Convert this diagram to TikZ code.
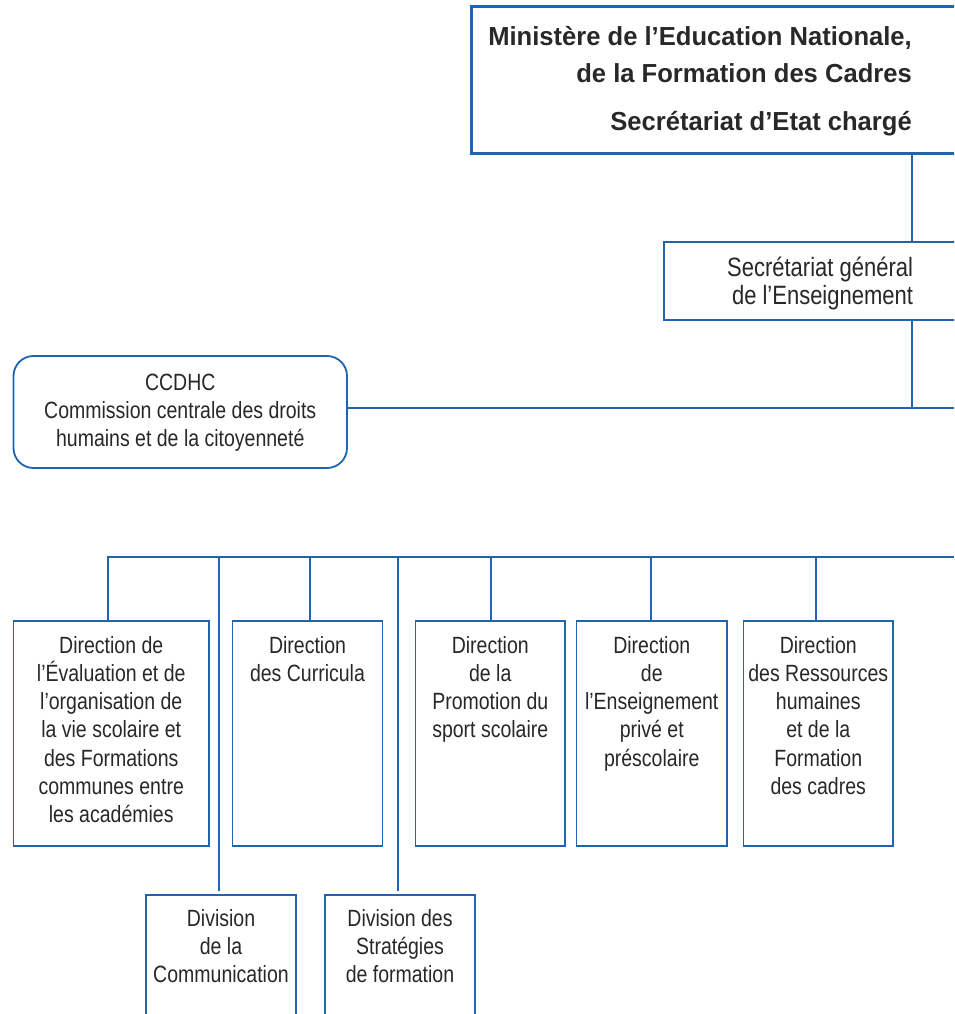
\documentclass[tikz,border=0pt]{standalone}
\usepackage{fontspec}
\setmainfont{Liberation Sans}[FakeStretch=0.83]
\newfontfamily\titlefont{Liberation Sans}[FakeStretch=0.98]
\definecolor{bl}{RGB}{30,100,175}
\definecolor{ink}{RGB}{40,40,40}
\begin{document}
\begin{tikzpicture}[x=1pt,y=-1pt,
  box/.style={draw=bl, line width=1.8pt, fill=white, inner sep=0pt, outer sep=0pt},
  lbl/.style={inner sep=0pt, outer sep=0pt, align=center, text=ink, font=\fontsize{23.5}{28.3}\selectfont, anchor=base},
  con/.style={draw=bl, line width=1.4pt}]
\useasboundingbox (0,0) rectangle (954,1014);
\clip (0,0) rectangle (954,1014);

% boxes
\node[box, line width=3pt, minimum width=538.5pt, minimum height=147pt] (top) at (740.75,80) {};
\node[box, minimum width=346pt, minimum height=78pt] (sg) at (837,281) {};
\node[box, rounded corners=20pt, minimum width=333.5pt, minimum height=112pt] (cc) at (180.25,412) {};
\node[box, minimum width=195.5pt, minimum height=225pt] (b1) at (111.25,733.5) {};
\node[box, minimum width=150pt, minimum height=225pt] (b2) at (307.5,733.5) {};
\node[box, minimum width=149.5pt, minimum height=225pt] (b3) at (490.25,733.5) {};
\node[box, minimum width=150.5pt, minimum height=225pt] (b4) at (651.75,733.5) {};
\node[box, minimum width=149.5pt, minimum height=225pt] (b5) at (818.25,733.5) {};
\node[box, minimum width=150pt, minimum height=165pt] (d1) at (221,977.5) {};
\node[box, minimum width=150pt, minimum height=165pt] (d2) at (400,977.5) {};

% texts (anchored at the baseline of their last line)
\node[inner sep=0pt, align=right, text=ink, anchor=base east,
  font=\titlefont\bfseries\fontsize{26.1}{36}\selectfont] (ttl) at (912,131)
  {Ministère de l’Education Nationale,\\de la Formation des Cadres\\[13pt]Secrétariat d’Etat chargé};
\node[lbl, align=right, anchor=base east, font=\fontsize{26.5}{28}\selectfont] (sgt) at (913,304) {Secrétariat général\\de l’Enseignement};
\node[lbl] (cct) at (180.25,446.6) {CCDHC\\Commission centrale des droits\\humains et de la citoyenneté};
\node[lbl] (b1t) at (111.25,822.8) {Direction de\\l’Évaluation et de\\l’organisation de\\la vie scolaire et\\des Formations\\communes entre\\les académies};
\node[lbl] (b2t) at (307.5,681.3) {Direction\\des Curricula};
\node[lbl] (b3t) at (490.25,737.9) {Direction\\de la\\Promotion du\\sport scolaire};
\node[lbl] (b4t) at (651.75,766.2) {Direction\\de\\l’Enseignement\\privé et\\préscolaire};
\node[lbl] (b5t) at (818.25,794.5) {Direction\\des Ressources\\humaines\\et de la\\Formation\\des cadres};
\node[lbl] (d1t) at (221,982.6) {Division\\de la\\Communication};
\node[lbl] (d2t) at (400,982.6) {Division des\\Stratégies\\de formation};

% connectors
\coordinate (j1) at (912,408);
\coordinate (r1) at (954,408);
\draw[con] (top.south -| j1) -- (sg.north -| j1);
\draw[con] (sg.south -| j1) -- (j1);
\draw[con] (r1 -| cc.east) -- (r1);

\coordinate (bL) at (108,557);
\coordinate (bR) at (954,557);
\coordinate (t2) at (310,557);
\coordinate (t3) at (491,557);
\coordinate (t4) at (651,557);
\coordinate (t5) at (816,557);
\coordinate (t6) at (219,557);
\coordinate (t7) at (398,557);
\draw[con] (bR) -- (bL) -- (b1.north -| bL);
\draw[con] (t2) -- (t2 |- b2.north);
\draw[con] (t3) -- (t3 |- b3.north);
\draw[con] (t4) -- (t4 |- b4.north);
\draw[con] (t5) -- (t5 |- b5.north);
\draw[con] (t6) -- ([yshift=4pt]d1.north -| t6);
\draw[con] (t7) -- ([yshift=4pt]d2.north -| t7);
\end{tikzpicture}
\end{document}
